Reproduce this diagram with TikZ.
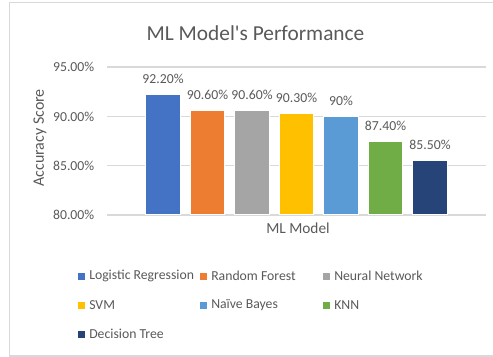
\documentclass[tikz,border=0pt]{standalone}
\usepackage{fontspec}
\setmainfont{Carlito}[Ligatures=TeXOff]
\definecolor{txt}{HTML}{595959}
\definecolor{grid}{HTML}{D9D9D9}
\definecolor{cLR}{HTML}{4472C4}
\definecolor{cRF}{HTML}{ED7D31}
\definecolor{cNN}{HTML}{A5A5A5}
\definecolor{cSVM}{HTML}{FFC000}
\definecolor{cNB}{HTML}{5B9BD5}
\definecolor{cKNN}{HTML}{70AD47}
\definecolor{cDT}{HTML}{264478}
\tikzset{
  lbl/.style={text=txt, font=\fontsize{10.3}{12}\selectfont, inner sep=0pt},
  axtitle/.style={text=txt, font=\fontsize{11.5}{13}\selectfont, inner sep=0pt},
  tick/.style={lbl, anchor=east},
  bar/.style={fill=#1, draw=white, line width=0.5pt, anchor=south, minimum width=34.5*0.75pt, inner sep=0pt},
  val/.style={lbl, anchor=base},
  key/.style={fill=#1, minimum size=7*0.75pt, inner sep=0pt, anchor=west},
  keytext/.style={lbl, anchor=west},
}
\begin{document}
\begin{tikzpicture}[x=0.75pt, y=-0.75pt]
  \useasboundingbox (0,0) rectangle (493,357);
  % chart frame
  \draw[grid, line width=1.2] (9.5,357) -- (9.5,2.5) -- (493,2.5);
  \draw[grid, line width=1.2] (9.5,356) -- (493,356);
  % title
  \node[text=txt, font=\fontsize{16}{19}\selectfont, inner sep=0pt] (title) at (255.5,33) {ML Model's Performance};
  % gridlines and tick labels
  \foreach \v/\t in {80/80.00\%, 85/85.00\%, 90/90.00\%, 95/95.00\%} {
    \pgfmathsetmacro{\yy}{215-(\v-80)*9.86}
    \draw[grid, line width=1] (107,\yy) -- (486,\yy);
    \node[tick] (tick\v) at (94.5,\yy) {\t};
  }
  % axis titles
  \node[axtitle, font=\fontsize{12}{14}\selectfont, rotate=90] (ytitle) at (40,138) {Accuracy Score};
  \node[axtitle] (xtitle) at (298,228) {ML Model};
  % bars and value labels
  \foreach \i/\v/\c/\t in {0/92.2/cLR/92.20\%, 1/90.6/cRF/90.60\%, 2/90.6/cNN/90.60\%,
      3/90.3/cSVM/90.30\%, 4/90/cNB/90\%, 5/87.4/cKNN/87.40\%, 6/85.5/cDT/85.50\%} {
    \pgfmathsetmacro{\xx}{163+44.5*\i}
    \pgfmathsetmacro{\hh}{(\v-80)*9.86}
    \node[bar=\c, minimum height=\hh*0.75pt] (bar\i) at (\xx,215) {};
    \node[val] (val\i) at ([yshift=10.5*0.75pt]bar\i.north) {\t};
  }
  % legend
  \foreach \n/\x/\y/\c/\t in {lr/78/276/cLR/Logistic Regression, rf/200/276/cRF/Random Forest,
      nn/323/276/cNN/Neural Network, svm/78/305/cSVM/SVM, nb/200/305/cNB/Naïve Bayes,
      knn/323/305/cKNN/KNN, dt/78/334/cDT/Decision Tree} {
    \node[key=\c] (key\n) at (\x,\y) {};
    \node[keytext] (keytext\n) at (\x+11,\y) {\t};
  }
\end{tikzpicture}
\end{document}
